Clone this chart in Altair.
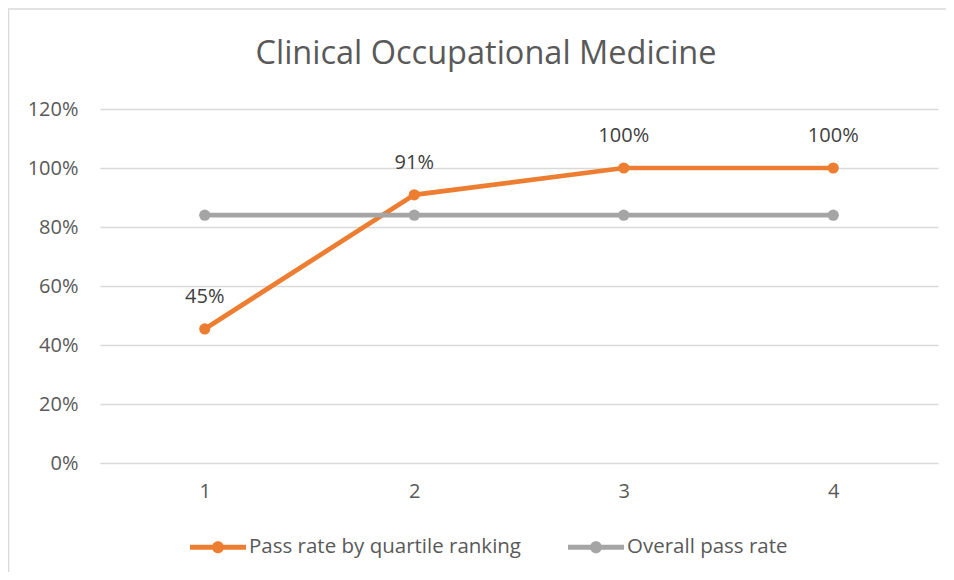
import altair as alt
import pandas as pd

quartiles = ["1", "2", "3", "4"]
pass_rate_by_quartile = [0.4545, 0.9091, 1.0, 1.0]
overall_pass_rate = [0.84, 0.84, 0.84, 0.84]
series_names = ["Pass rate by quartile ranking", "Overall pass rate"]
series_colors = ["#ED7D31", "#A5A5A5"]
y_ticks = [0, 0.2, 0.4, 0.6, 0.8, 1.0, 1.2]

rows = []
for q, v in zip(quartiles, pass_rate_by_quartile):
    rows.append({"quartile": q, "rate": v, "series": series_names[0]})
for q, v in zip(quartiles, overall_pass_rate):
    rows.append({"quartile": q, "rate": v, "series": series_names[1]})
df = pd.DataFrame(rows)

FONT = "Open Sans"
TEXT = "#595959"

legend_path = ("M-1,-0.09H1V0.09H-1Z "
               "M0.215,0A0.215,0.215 0 1,1 -0.215,0A0.215,0.215 0 1,1 0.215,0Z")

legend = alt.Legend(
    title=None, orient="none", direction="horizontal",
    legendX=90, legendY=410,
    symbolType=legend_path, symbolSize=3136,
    symbolStrokeWidth=0, symbolOpacity=1, labelLimit=0, labelOffset=3,
    columnPadding=46, labelFontSize=20.5, labelFont=FONT,
    labelColor=TEXT)

x_enc = alt.X("quartile:O", sort=quartiles,
              scale=alt.Scale(padding=0.5),
              axis=alt.Axis(title=None, labelAngle=0, ticks=False, domain=False,
                            grid=False, labelPadding=18))
y_enc = alt.Y("rate:Q",
              scale=alt.Scale(domain=[0, 1.2], nice=False),
              axis=alt.Axis(title=None, format=".0%", values=y_ticks, ticks=False,
                            domain=False, grid=True, labelPadding=22))
color_enc = alt.Color("series:N",
                      scale=alt.Scale(domain=series_names, range=series_colors),
                      legend=legend)

base = alt.Chart(df)

points = base.mark_point(filled=True, size=125, opacity=1).encode(
    x=x_enc, y=y_enc, color=color_enc)
lines = base.mark_line(strokeWidth=4.7).encode(x=x_enc, y=y_enc, color=color_enc)
labels = base.transform_filter(
    alt.datum.series == series_names[0]
).mark_text(dy=-32, fontSize=20, font=FONT, color="#404040").encode(
    x=x_enc, y=y_enc, text=alt.Text("rate:Q", format=".0%"))

border = alt.Chart(pd.DataFrame({"a": [0]})).mark_rect(
    filled=False, stroke="#D9D9D9", strokeWidth=1.5
).encode(x=alt.value(-91.5), x2=alt.value(1000), y=alt.value(-100), y2=alt.value(700))

chart = alt.layer(border, points, lines, labels).properties(
    width=838, height=354,
    background="white",
    title=alt.TitleParams("Clinical Occupational Medicine", fontSize=32.5, font=FONT,
                          fontWeight="normal", color=TEXT, dx=-33, offset=-62),
    padding={"left": 92, "top": 101, "right": 8, "bottom": 109},
    autosize=alt.AutoSizeParams(type="none"),
).configure_view(stroke=None).configure_axis(
    labelFont=FONT, labelFontSize=20, labelColor=TEXT,
    gridColor="#D9D9D9", gridWidth=1.5
)

chart.save("out.html", embed_options={"renderer": "svg", "actions": False})
